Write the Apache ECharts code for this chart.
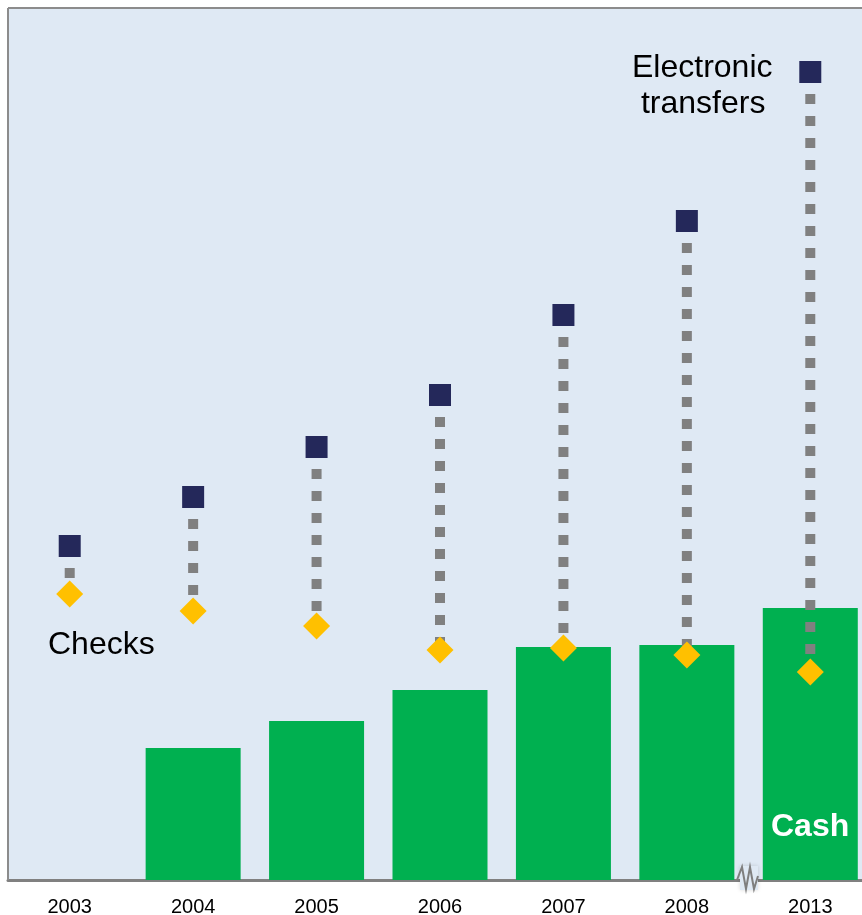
<!DOCTYPE html>
<html><head><meta charset="utf-8">
<script src="https://cdn.jsdelivr.net/npm/echarts@6/dist/echarts.min.js"></script>
<style>html,body{margin:0;padding:0;background:#fff;overflow:hidden}#c{width:872px;height:915px}</style>
</head><body><div id="c"></div>
<script>
const categories = ['2003','2004','2005','2006','2007','2008','2013'];
const cash = [0, 132, 159, 190, 233, 235, 272];
const checks = [286, 269, 254, 230, 232, 225, 208];
const electronic = [334, 383, 433, 485, 565, 659, 808];

const chart = echarts.init(document.getElementById('c'));
const FONT = '"Liberation Sans", Arial, sans-serif';
chart.setOption({
  animation: false,
  textStyle: {fontFamily: FONT},
  grid: {left: 8, top: 8, right: 0, bottom: 35, show: true, backgroundColor: '#DFE9F4', borderWidth: 0, containLabel: false, outerBoundsMode: 'none'},
  xAxis: {
    type: 'category', data: categories,
    axisLine: {lineStyle: {color: '#808080', width: 3}},
    axisTick: {show: false},
    axisLabel: {color: '#000', fontSize: 20, margin: 17, fontFamily: FONT}
  },
  yAxis: {type: 'value', min: 0, max: 872, show: false, splitLine: {show: false}},
  series: [
    {type: 'bar', data: cash, barWidth: 95, itemStyle: {color: '#00B050'}, z: 1},
    {
      type: 'custom', z: 2,
      data: categories.map((c, i) => [i, checks[i], electronic[i]]),
      renderItem: function (params, api) {
        const p1 = api.coord([api.value(0), api.value(2)]);
        const p2 = api.coord([api.value(0), api.value(1)]);
        return {type: 'line', shape: {x1: p1[0], y1: p1[1], x2: p2[0], y2: p2[1]},
          style: {stroke: '#808080', lineWidth: 10, lineDash: [10, 12], lineCap: 'butt'}};
      }
    },
    {type: 'scatter', data: checks, symbol: 'diamond', symbolSize: [27, 27], itemStyle: {color: '#FFC000', opacity: 1}, z: 3},
    {type: 'scatter', data: electronic, symbol: 'rect', symbolSize: 22, itemStyle: {color: '#24285A', opacity: 1}, z: 3}
  ],
  graphic: [
    {type: 'line', shape: {x1: 8, y1: 8, x2: 872, y2: 8}, style: {stroke: '#8c8c8c', lineWidth: 2}, z: 5},
    {type: 'line', shape: {x1: 8, y1: 8, x2: 8, y2: 880}, style: {stroke: '#8c8c8c', lineWidth: 2}, z: 5},
    {type: 'text', left: 632, top: 50, style: {text: 'Electronic\n transfers', fontSize: 32, lineHeight: 36, fill: '#000', fontFamily: FONT, align: 'center'}, z: 10},
    {type: 'text', left: 48, top: 629, style: {text: 'Checks', fontSize: 32, fill: '#000', fontFamily: FONT}, z: 10},
    {type: 'text', left: 771, top: 811, style: {text: 'Cash', fontSize: 32, fontWeight: 'bold', fill: '#fff', fontFamily: FONT}, z: 10},
    {type: 'rect', shape: {x: 740, y: 866, width: 18, height: 24}, style: {fill: '#DFE9F4', shadowBlur: 4, shadowColor: 'rgba(0,0,0,0.15)'}, z: 10},
    {type: 'polyline', shape: {points: [[737, 880], [742, 867], [746, 889], [750, 867], [754, 889], [758, 876]]}, style: {stroke: '#7f7f7f', lineWidth: 2, fill: null}, z: 11}
  ]
});
</script></body></html>
